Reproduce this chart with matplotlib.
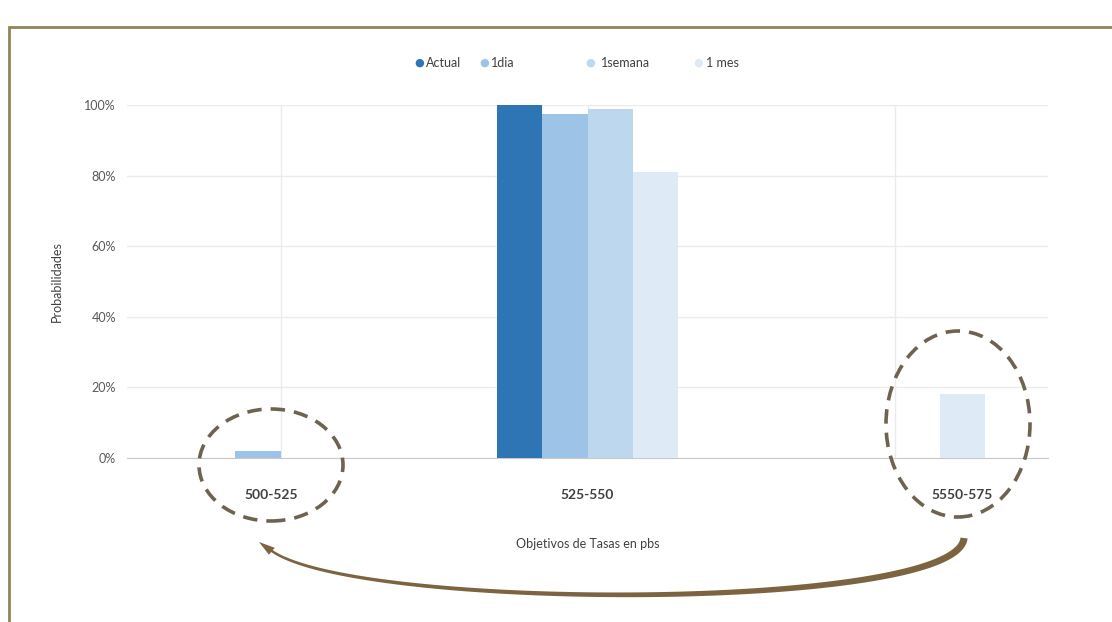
import numpy as np
import matplotlib.pyplot as plt
import matplotlib.transforms as mtransforms
from matplotlib.patches import Ellipse, Rectangle, Polygon

plt.rcParams['font.family'] = ['Lato', 'DejaVu Sans']

# rate target buckets and probabilities per horizon
categories = ['500-525', '525-550', '5550-575']
series = ['Actual', '1dia', '1semana', '1 mes']
actual = [0.00, 1.00, 0.00]
un_dia = [0.02, 0.975, 0.00]
una_semana = [0.00, 0.99, 0.00]
un_mes = [0.00, 0.81, 0.18]
values = [actual, un_dia, una_semana, un_mes]
colors = ['#2E75B6', '#9DC3E6', '#BDD7EE', '#DEEBF7']
yticks = [0, 0.2, 0.4, 0.6, 0.8, 1.0]
ytick_labels = ['0%', '20%', '40%', '60%', '80%', '100%']

W, H = 1112, 622
fig = plt.figure(figsize=(W / 100, H / 100), dpi=100)


def px(x, y):
    # pixel position (top-left origin) -> figure fraction
    return x / W, 1 - y / H


ax = fig.add_axes([127 / W, 1 - 458 / H, (1048 - 127) / W, (458 - 105) / H])
x = np.arange(len(categories))
bw = 0.148
for i, (vals, c) in enumerate(zip(values, colors)):
    ax.bar(x + (i - 1.5) * bw, vals, width=bw, color=c, zorder=3)

ax.set_xlim(-0.5, 2.5)
ax.set_ylim(0, 1.0)
ax.set_yticks(yticks)
ax.set_yticklabels(ytick_labels, color='#595959', fontsize=9)
ax.set_xticks(x)
ax.set_xticklabels(categories, color='#404040', fontsize=10, fontweight='bold')
ax.tick_params(axis='y', length=0, pad=8)
ax.tick_params(axis='x', length=0, pad=22)
# the outer bucket labels sit inside the highlight circles
for lab, dx in zip(ax.get_xticklabels(), [-9, 0, 68]):
    lab.set_transform(lab.get_transform()
                      + mtransforms.ScaledTranslation(dx / 100, 0, fig.dpi_scale_trans))
ax.grid(True, color='#EBEBEB', lw=1, zorder=0)
for s in ['top', 'right', 'left']:
    ax.spines[s].set_visible(False)
ax.spines['bottom'].set_color('#C8C8C8')
ax.set_ylabel('Probabilidades', color='#404040', fontsize=9, va='center')
ax.yaxis.set_label_coords((57 - 127) / 921, 0.5)
ax.set_xlabel('Objetivos de Tasas en pbs', color='#404040', fontsize=9, va='center')
ax.xaxis.set_label_coords(0.5, (458 - 544) / 353)

# legend row
leg_marker_x = [419, 484, 590, 698]
leg_text_x = [426, 491, 601, 706]
for name, c, mx, tx in zip(series, colors, leg_marker_x, leg_text_x):
    fig.text(*px(mx, 63), '\u25cf', color=c, fontsize=8, ha='center', va='center',
             family='DejaVu Sans')
    fig.text(*px(tx, 63), name, color='#404040', fontsize=9, ha='left', va='center')

# frame around the chart
frame = Rectangle(px(9, 640), (W + 20) / W, (640 - 27) / H, transform=fig.transFigure,
                  fill=False, edgecolor='#8F8556', lw=2)
fig.add_artist(frame)

# dashed circles around the tail buckets
for cx, cy, ew, eh in [(271, 465, 144, 112), (958, 424, 144, 186)]:
    e = Ellipse(px(cx, cy), ew / W, eh / H, transform=fig.transFigure, fill=False,
                edgecolor='#6E6350', lw=2.6, linestyle=(0, (4, 2.5)))
    fig.add_artist(e)

# tapered curved arrow from right bucket to left bucket
P = np.array([[964, 538], [958, 612], [340, 612], [268, 548]], dtype=float)
t = np.linspace(0, 1, 200)[:, None]
pts = ((1 - t) ** 3 * P[0] + 3 * (1 - t) ** 2 * t * P[1]
       + 3 * (1 - t) * t ** 2 * P[2] + t ** 3 * P[3])
d = np.gradient(pts, axis=0)
d /= np.linalg.norm(d, axis=1)[:, None]
nrm = np.column_stack([-d[:, 1], d[:, 0]])
half = (3.6 - 2.4 * t[:, 0])
left_side = pts + nrm * half[:, None]
right_side = pts - nrm * half[:, None]
outline = np.vstack([left_side, right_side[::-1]])
outline_fig = np.array([px(a, b) for a, b in outline])
fig.add_artist(Polygon(outline_fig, closed=True, transform=fig.transFigure,
                       facecolor='#7D6440', edgecolor='none'))
# arrow head
tip = np.array([259, 542.0])
back = pts[-1] - d[-1] * 2
head = np.array([tip, back + nrm[-1] * 4.5 - d[-1] * 3, back - nrm[-1] * 4.5 - d[-1] * 3])
fig.add_artist(Polygon(np.array([px(a, b) for a, b in head]), closed=True,
                       transform=fig.transFigure, facecolor='#7D6440', edgecolor='none'))

fig.savefig('out.png', dpi=100)
